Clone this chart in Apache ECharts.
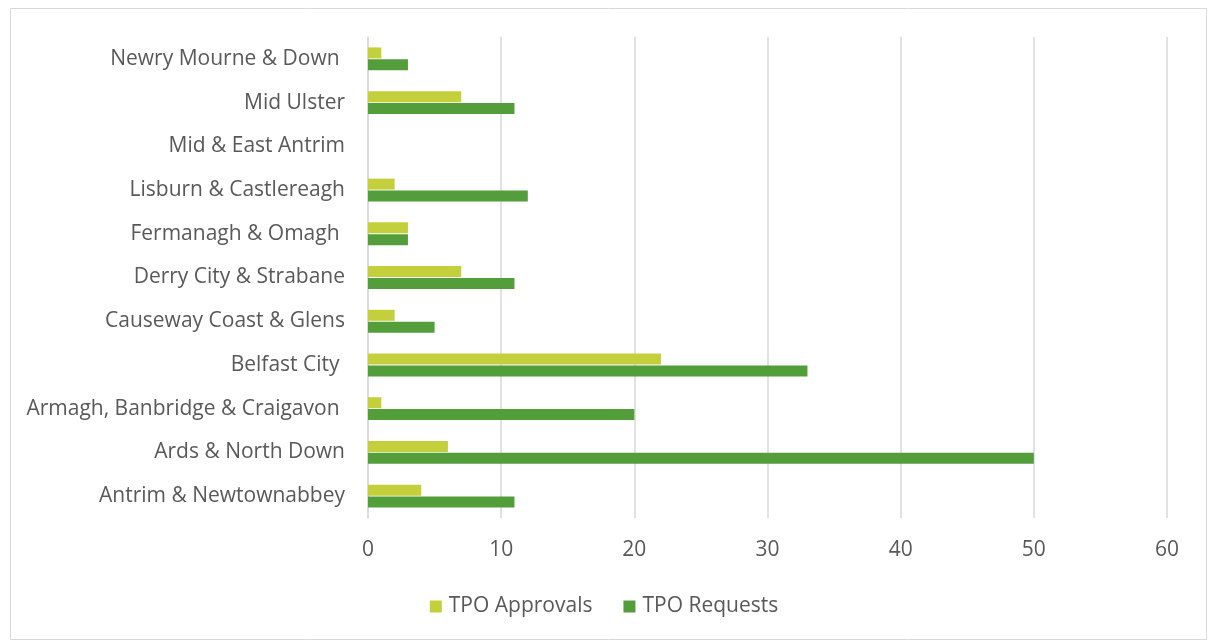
<!DOCTYPE html>
<html>
<head>
<meta charset="utf-8">
<script src="https://cdn.jsdelivr.net/npm/echarts@6/dist/echarts.min.js"></script>
<style>
  html, body { margin: 0; padding: 0; background: #fff; }
  #chart { width: 1208px; height: 641px; }
</style>
</head>
<body>
<div id="chart"></div>
<script>
// Councils, listed bottom to top along the category axis
const councils = [
  'Antrim & Newtownabbey',
  'Ards & North Down',
  'Armagh, Banbridge & Craigavon ',
  'Belfast City ',
  'Causeway Coast & Glens',
  'Derry City & Strabane',
  'Fermanagh & Omagh ',
  'Lisburn & Castlereagh',
  'Mid & East Antrim',
  'Mid Ulster',
  'Newry Mourne & Down '
];
const tpoApprovals = [4, 6, 1, 22, 2, 7, 3, 2, 0, 7, 1];
const tpoRequests  = [11, 50, 20, 33, 5, 11, 3, 12, 0, 11, 3];
const valueTicks = { min: 0, max: 60, interval: 10 };

const textColor = '#595959';
const fontFamily = '"Open Sans", "Noto Sans", sans-serif';

const chart = echarts.init(document.getElementById('chart'), null, { renderer: 'canvas' });
chart.setOption({
  animation: false,
  textStyle: { fontFamily: fontFamily },
  graphic: [{
    type: 'rect',
    shape: { x: 10.5, y: 8.5, width: 1196, height: 631 },
    style: { fill: 'none', stroke: '#D9D9D9', lineWidth: 1 },
    silent: true
  }],
  grid: { left: 368, right: 41, top: 37, bottom: 123, containLabel: false },
  xAxis: {
    type: 'value',
    min: valueTicks.min, max: valueTicks.max, interval: valueTicks.interval,
    axisLine: { show: false },
    axisTick: { show: false },
    splitLine: { lineStyle: { color: '#D9D9D9', width: 1.5 } },
    axisLabel: { color: textColor, fontSize: 21, margin: 22, fontFamily: fontFamily }
  },
  yAxis: {
    type: 'category',
    data: councils,
    axisLine: { show: true, lineStyle: { color: '#D9D9D9', width: 1.5 } },
    axisTick: { show: false },
    axisLabel: { color: textColor, fontSize: 21, margin: 23, fontFamily: fontFamily }
  },
  legend: {
    bottom: 19,
    left: 'center',
    itemWidth: 12, itemHeight: 12, itemGap: 31,
    icon: 'rect',
    textStyle: { color: textColor, fontSize: 21, fontFamily: fontFamily, padding: [0, 0, 0, 2] },
    data: ['TPO Approvals', 'TPO Requests']
  },
  series: [
    {
      name: 'TPO Approvals', type: 'bar', data: tpoApprovals,
      barWidth: 11, barGap: '8%',
      itemStyle: { color: '#C4CF3C' }
    },
    {
      name: 'TPO Requests', type: 'bar', data: tpoRequests,
      barWidth: 11, barGap: '8%',
      itemStyle: { color: '#539E3A' }
    }
  ]
});
</script>
</body>
</html>
